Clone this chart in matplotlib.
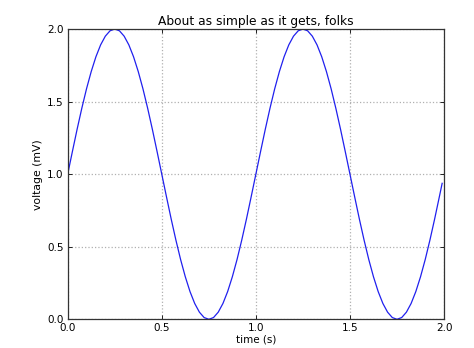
import matplotlib
matplotlib.use("Agg")
import matplotlib.pyplot as plt

# time samples (s) and voltage readings (mV)
time_s = [0.000, 0.025, 0.050, 0.075, 0.100, 0.125, 0.150, 0.175, 0.200, 0.225,
          0.250, 0.275, 0.300, 0.325, 0.350, 0.375, 0.400, 0.425, 0.450, 0.475,
          0.500, 0.525, 0.550, 0.575, 0.600, 0.625, 0.650, 0.675, 0.700, 0.725,
          0.750, 0.775, 0.800, 0.825, 0.850, 0.875, 0.900, 0.925, 0.950, 0.975,
          1.000, 1.025, 1.050, 1.075, 1.100, 1.125, 1.150, 1.175, 1.200, 1.225,
          1.250, 1.275, 1.300, 1.325, 1.350, 1.375, 1.400, 1.425, 1.450, 1.475,
          1.500, 1.525, 1.550, 1.575, 1.600, 1.625, 1.650, 1.675, 1.700, 1.725,
          1.750, 1.775, 1.800, 1.825, 1.850, 1.875, 1.900, 1.925, 1.950, 1.975,
          1.990]
voltage_mv = [1.000, 1.156, 1.309, 1.454, 1.588, 1.707, 1.809, 1.891, 1.951, 1.988,
              2.000, 1.988, 1.951, 1.891, 1.809, 1.707, 1.588, 1.454, 1.309, 1.156,
              1.000, 0.844, 0.691, 0.546, 0.412, 0.293, 0.191, 0.109, 0.049, 0.012,
              0.000, 0.012, 0.049, 0.109, 0.191, 0.293, 0.412, 0.546, 0.691, 0.844,
              1.000, 1.156, 1.309, 1.454, 1.588, 1.707, 1.809, 1.891, 1.951, 1.988,
              2.000, 1.988, 1.951, 1.891, 1.809, 1.707, 1.588, 1.454, 1.309, 1.156,
              1.000, 0.844, 0.691, 0.546, 0.412, 0.293, 0.191, 0.109, 0.049, 0.012,
              0.000, 0.012, 0.049, 0.109, 0.191, 0.293, 0.412, 0.546, 0.691, 0.844,
              0.937]
x_ticks = [0.0, 0.5, 1.0, 1.5, 2.0]
y_ticks = [0.0, 0.5, 1.0, 1.5, 2.0]

fig = plt.figure(figsize=(4.74, 3.48), dpi=100)
ax = fig.add_axes([0.1428, 0.0825, 0.794, 0.834])

ax.plot(time_s, voltage_mv, color='#2020ee', linewidth=0.9)

ax.set_xlim(0, 2.0)
ax.set_ylim(0, 2.0)
ax.set_xticks(x_ticks)
ax.set_yticks(y_ticks)
ax.set_xticklabels(['%.1f' % v for v in x_ticks])
ax.set_yticklabels(['%.1f' % v for v in y_ticks])
ax.tick_params(direction='in', length=3, width=0.6, labelsize=7.5, pad=3,
               top=True, right=True)

ax.grid(True, color='#b0b0b0', linestyle=':', linewidth=0.9)
for sp in ax.spines.values():
    sp.set_linewidth(0.9)
    sp.set_color('#333333')

ax.set_xlabel('time (s)', fontsize=7.5, labelpad=0.5)
ax.set_ylabel('voltage (mV)', fontsize=7.8, labelpad=2.5)
ax.set_title('About as simple as it gets, folks', fontsize=8.8, pad=3)

fig.savefig('out.png', dpi=100)
